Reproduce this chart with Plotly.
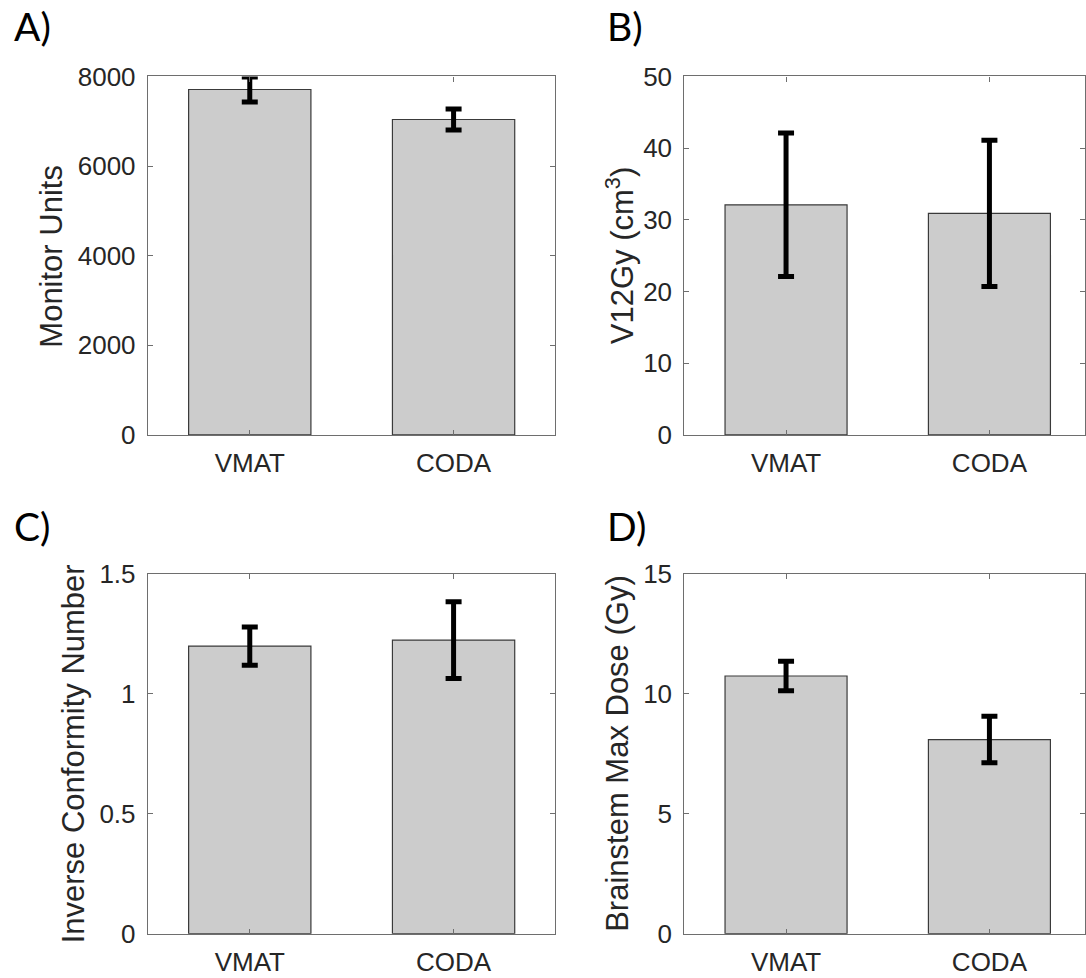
import plotly.graph_objects as go

categories = ["VMAT", "CODA"]

monitor_units = [7710, 7040]
monitor_units_sd = [280, 235]

v12gy = [32.1, 30.9]
v12gy_sd = [10.0, 10.2]

icn = [1.2, 1.225]
icn_sd = [0.08, 0.16]

brainstem = [10.75, 8.1]
brainstem_sd = [0.62, 0.97]

panel_letters = ["A)", "B)", "C)", "D)"]
y_titles = ["Monitor Units", "V12Gy (cm<sup>3</sup>)", "Inverse Conformity Number",
            "Brainstem Max Dose (Gy)"]
y_ticks = [
    [0, 2000, 4000, 6000, 8000],
    [0, 10, 20, 30, 40, 50],
    [0, 0.5, 1, 1.5],
    [0, 5, 10, 15],
]
y_tick_text = [
    ["0", "2000", "4000", "6000", "8000"],
    ["0", "10", "20", "30", "40", "50"],
    ["0", "0.5", "1", "1.5"],
    ["0", "5", "10", "15"],
]
y_ranges = [[0, 8000], [0, 50], [0, 1.5], [0, 15]]

W, H = 1086, 978
# vertical correction observed between layout and photographed page
VK, VOFF = 0.968, 15.6

def px(x):
    return x / W
def py(y):
    yi = (y - VOFF) / VK
    return 1 - yi / H

# panel pixel boxes (left, right, top, bottom) in target picture coords
boxes = [
    (148, 556, 77, 435),
    (685, 1086, 77, 435),
    (148, 556, 574, 933),
    (685, 1086, 574, 933),
]
x_ranges = [[-0.5, 1.5], [-0.5, 1.47], [-0.5, 1.5], [-0.5, 1.47]]

series = [(monitor_units, monitor_units_sd), (v12gy, v12gy_sd), (icn, icn_sd),
          (brainstem, brainstem_sd)]

fig = go.Figure()
axis_col = "#6e6e6e"
text_col = "#262626"
tick_font = dict(family="Liberation Sans, Arial", size=26, color=text_col)

for i, (vals, sds) in enumerate(series):
    n = "" if i == 0 else str(i + 1)
    fig.add_trace(go.Bar(
        x=categories, y=vals, width=0.6,
        marker=dict(color="#cccccc", line=dict(color="#3a3a3a", width=1.2)),
        error_y=dict(type="data", array=sds, visible=True, color="black",
                     thickness=5, width=8),
        xaxis="x" + n, yaxis="y" + n, showlegend=False,
    ))
    l, r, t, b = boxes[i]
    fig.layout["xaxis" + n] = dict(
        domain=[px(l), min(px(r), 1.0)], anchor="y" + n, range=x_ranges[i],
        type="category", showline=True, linecolor=axis_col, linewidth=1.2,
        mirror="ticks", ticks="inside", ticklen=5, tickcolor=axis_col,
        tickfont=tick_font, ticklabelstandoff=5, showgrid=False, zeroline=False,
        fixedrange=True,
    )
    fig.layout["yaxis" + n] = dict(
        domain=[py(b), py(t)], anchor="x" + n, range=y_ranges[i],
        tickvals=y_ticks[i], ticktext=y_tick_text[i],
        showline=True, linecolor=axis_col, linewidth=1.2,
        mirror="ticks", ticks="inside", ticklen=5, tickcolor=axis_col,
        tickfont=tick_font, ticklabelstandoff=6, showgrid=False, zeroline=False,
        fixedrange=True,
    )

annotations = []
letter_pos = [(12, 2), (606, 2), (12, 501), (606, 501)]
for (x, y), txt in zip(letter_pos, panel_letters):
    annotations.append(dict(
        text=txt, x=px(x), y=py(y), xref="paper", yref="paper",
        xanchor="left", yanchor="top", showarrow=False,
        font=dict(family="Lato", size=39, color="black"),
    ))
title_pos = [(52, 256), (620, 256), (73, 753), (618, 753)]
for (x, y), txt in zip(title_pos, y_titles):
    annotations.append(dict(
        text=txt, x=px(x), y=py(y), xref="paper", yref="paper",
        xanchor="center", yanchor="middle", showarrow=False, textangle=-90,
        font=dict(family="Liberation Sans, Arial", size=31, color=text_col),
    ))

fig.update_layout(
    width=W, height=H, margin=dict(l=0, r=0, t=0, b=0),
    paper_bgcolor="white", plot_bgcolor="white",
    annotations=annotations, bargap=0.4,
)

fig.write_html(
    "out.html",
    config={"displayModeBar": False},
    post_script="document.body.style.margin='0';document.body.style.overflow='hidden';",
)
